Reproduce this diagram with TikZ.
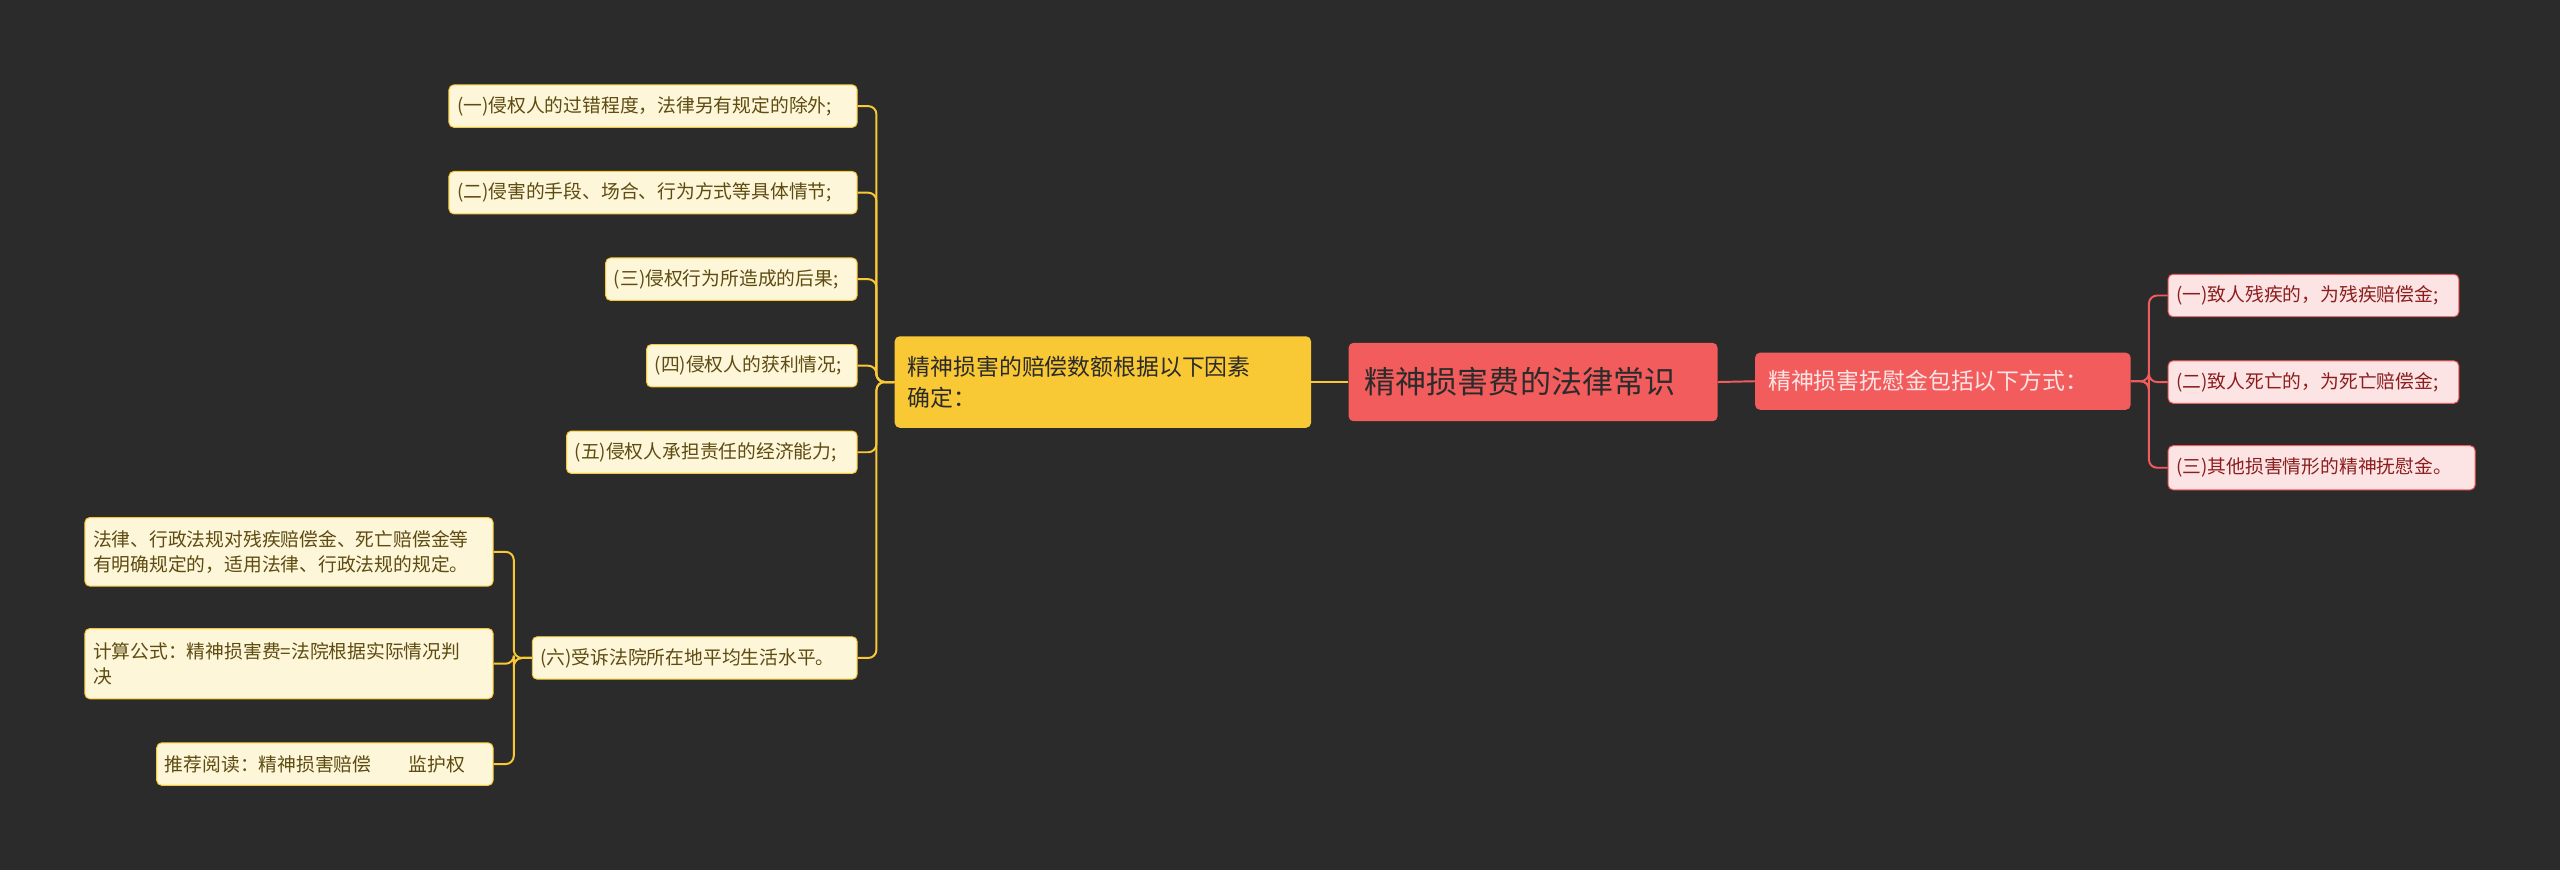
\documentclass[tikz,border=0pt]{standalone}
\usepackage{fontspec}
\setmainfont{Noto Sans CJK SC}
\usetikzlibrary{calc}
\definecolor{bg}{HTML}{2B2B2B}
\definecolor{rootc}{HTML}{F25C5C}
\definecolor{yel}{HTML}{F9C935}
\definecolor{lyel}{HTML}{FDF6D8}
\definecolor{ltext}{HTML}{5E4B12}
\definecolor{lpink}{HTML}{FDE4E4}
\definecolor{ptext}{HTML}{8A1E1E}
\begin{document}
\begin{tikzpicture}[x=1pt,y=1pt,
 box/.style={rounded corners=3pt,inner sep=0pt,align=left,text width=#1},
 yleaf/.style={box=#1,fill=lyel,draw=yel,line width=0.6pt,text=ltext,font=\fontsize{11.5}{15}\selectfont,inner xsep=5pt},
 pleaf/.style={box=#1,fill=lpink,draw=rootc,line width=0.6pt,text=ptext,font=\fontsize{11.5}{15}\selectfont,inner xsep=5pt},
 yl/.style={draw=yel,line width=1.2pt,rounded corners=5pt},
 rl/.style={draw=rootc,line width=1.2pt,rounded corners=5pt}]
\fill[bg] (0,0) rectangle (1568,-533);
\node[box=206pt,fill=rootc,text=bg!10!black,minimum height=48pt,inner xsep=10pt,font=\fontsize{19}{24}\selectfont] (root) at (939,-234) {\color{bg}精神损害费的法律常识};
\node[box=214pt,fill=rootc,minimum height=35pt,inner xsep=8pt,font=\fontsize{14}{18}\selectfont] (rb) at (1190,-233.5) {\color{lpink}精神损害抚慰金包括以下方式：};
\node[box=239pt,fill=yel,minimum height=56pt,inner xsep=8pt,font=\fontsize{14}{19}\selectfont] (lb) at (675.5,-234) {\color{bg}精神损害的赔偿数额根据以下因素\\确定：};
\node[pleaf=168pt,minimum height=26pt] (r1) at (1417,-181) {(一)致人残疾的，为残疾赔偿金;};
\node[pleaf=168pt,minimum height=26pt] (r2) at (1417,-234) {(二)致人死亡的，为死亡赔偿金;};
\node[pleaf=178pt,minimum height=27pt] (r3) at (1422,-286.5) {(三)其他损害情形的精神抚慰金。};
\node[yleaf=240pt,minimum height=26pt] (l1) at (400,-65) {(一)侵权人的过错程度，法律另有规定的除外;};
\node[yleaf=240pt,minimum height=26pt] (l2) at (400,-118) {(二)侵害的手段、场合、行为方式等具体情节;};
\node[yleaf=144pt,minimum height=26pt] (l3) at (448,-171) {(三)侵权行为所造成的后果;};
\node[yleaf=119pt,minimum height=26pt] (l4) at (460.5,-224) {(四)侵权人的获利情况;};
\node[yleaf=168pt,minimum height=26pt] (l5) at (436,-277) {(五)侵权人承担责任的经济能力;};
\node[yleaf=189pt,minimum height=26pt] (l6) at (425.5,-403) {(六)受诉法院所在地平均生活水平。};
\node[yleaf=240pt,minimum height=42pt] (s1) at (177,-338) {法律、行政法规对残疾赔偿金、死亡赔偿金等\\有明确规定的，适用法律、行政法规的规定。};
\node[yleaf=240pt,minimum height=43pt] (s2) at (177,-406.5) {计算公式：精神损害费=法院根据实际情况判\\决};
\node[yleaf=196pt,minimum height=26pt] (s3) at (199,-468) {推荐阅读：精神损害赔偿\hspace{2em}监护权};
\draw[yl] (root.west) -- (lb.east);
\draw[rl] (root.east) -- (rb.west);
\foreach \n in {r1,r2,r3} \draw[rl] (rb.east) -- ($(rb.east)+(11,0)$) |- (\n.west);
\foreach \n in {l1,l2,l3,l4,l5,l6} \draw[yl] (lb.west) -- ($(lb.west)+(-11,0)$) |- (\n.east);
\foreach \n in {s1,s2,s3} \draw[yl] (l6.west) -- ($(l6.west)+(-11,0)$) |- (\n.east);
\end{tikzpicture}
\end{document}
